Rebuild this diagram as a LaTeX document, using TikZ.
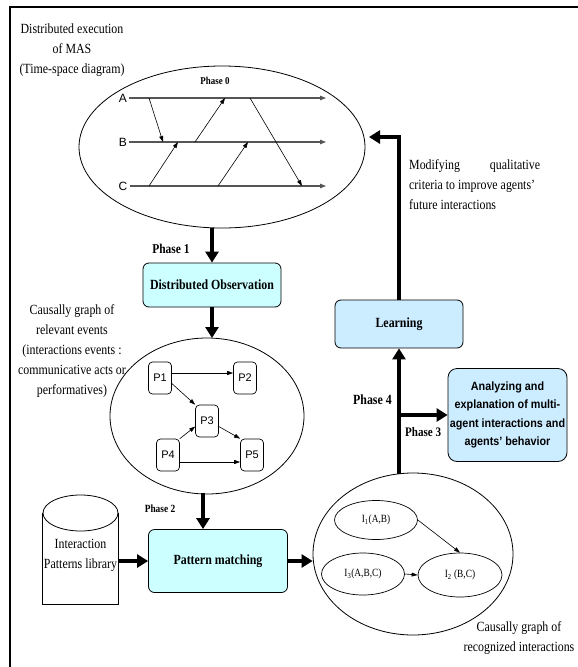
\documentclass[tikz,border=0pt]{standalone}
\usepackage{fontspec}
\setmainfont[FakeStretch=0.85]{Liberation Serif}
\newfontfamily\arialfont{Liberation Sans}
\newfontfamily\arialnarrow[FakeStretch=0.9]{Liberation Sans}
\usetikzlibrary{arrows.meta,shapes.geometric}

\definecolor{obscyan}{HTML}{CCFFFF}
\definecolor{learnblue}{HTML}{CCECFF}
\definecolor{lanegray}{HTML}{555555}

\tikzset{
  txt/.style={font=\fontsize{14}{20}\selectfont, align=center, inner sep=0},
  phaselbl/.style={font=\fontsize{#1}{#1}\selectfont\bfseries, inner sep=0},
  procbox/.style={draw, rounded corners=6pt, line width=0.8pt, fill=obscyan,
    font=\fontsize{14}{17}\selectfont\bfseries, inner sep=0},
  bigarrow/.style={line width=4pt, -{Triangle[length=11pt,width=13pt]}},
  smallarrow/.style={line width=0.6pt, -{Triangle[length=6pt,width=4pt]}},
  lane/.style={line width=1.1pt, draw=lanegray, -{Triangle[length=6pt,width=4.5pt]}},
  lanelbl/.style={font=\arialfont\fontsize{12}{12}\selectfont, inner sep=2pt},
  pbox/.style={draw, rounded corners=4pt, line width=0.7pt, minimum width=23pt,
    minimum height=32pt, inner sep=0, font=\arialfont\fontsize{11}{11}\selectfont},
  bigell/.style={draw, ellipse, line width=0.8pt, inner sep=0},
  iell/.style={draw, ellipse, line width=0.7pt, inner sep=0,
    font=\fontsize{11}{11}\selectfont},
}

\begin{document}
\begin{tikzpicture}[x=1pt,y=-1pt]
\useasboundingbox (0,0) rectangle (578,667);

% frame
\draw[line width=2pt] (10,667) -- (10,7) -- (578,7);

% ---- Phase 0: time-space diagram ----
\node[bigell, minimum width=286pt, minimum height=162pt] (ph0) at (222,147) {};
\node[txt] (exec) at (72,50) {Distributed execution\\of MAS\\(Time-space diagram)};
\node[phaselbl=10.5] (p0) at (215,81) {Phase 0};

\node[lanelbl] (lA) at (123,98) {A};
\node[lanelbl] (lB) at (123,142) {B};
\node[lanelbl] (lC) at (123,186) {C};
\coordinate (eA) at (326,98);
\coordinate (eB) at (326,142);
\coordinate (eC) at (326,186);
\draw[lane] (lA.east) -- (eA);
\draw[lane] (lB.east) -- (eB);
\draw[lane] (lC.east) -- (eC);

% messages between the lanes
\coordinate (m1s) at (149,98);  \coordinate (m1e) at (163,142);
\coordinate (m2s) at (149,186); \coordinate (m2e) at (178,142);
\coordinate (m3s) at (195,142); \coordinate (m3e) at (225,98);
\coordinate (m4s) at (218,186); \coordinate (m4e) at (248,142);
\coordinate (m5s) at (250,98);  \coordinate (m5e) at (302,186);
\draw[smallarrow] (m1s) -- (m1e);
\draw[smallarrow] (m2s) -- (m2e);
\draw[smallarrow] (m3s) -- (m3e);
\draw[smallarrow] (m4s) -- (m4e);
\draw[smallarrow] (m5s) -- (m5e);

% ---- Phase 1: observation ----
\node[procbox, minimum width=138pt, minimum height=44pt] (obs) at (212,285) {Distributed Observation};
\node[phaselbl=13.5] (p1) at (171,249) {Phase 1};
\coordinate (ph0b) at (212,228);
\draw[bigarrow] (ph0b) -- (obs.north);

% causal graph of events
\node[bigell, minimum width=194pt, minimum height=156pt] (evg) at (207,416) {};
\coordinate (evgt) at (212,338);
\draw[bigarrow] (obs.south) -- (evgt);
\node[txt] (evtxt) at (72,351) {Causally graph of\\relevant events\\(interactions events :\\communicative acts or\\performatives)};

\node[pbox] (P1) at (160,378) {P1};
\node[pbox] (P2) at (245,378) {P2};
\node[pbox] (P3) at (207,421) {P3};
\node[pbox] (P4) at (168,455) {P4};
\node[pbox] (P5) at (252,455) {P5};
\draw[smallarrow] (P1.east |- 0,373) -- (P2.west |- 0,373);
\draw[smallarrow] (P1.-25) -- (P3.north west);
\draw[smallarrow] (P4.north east) -- (P3.-155);
\draw[smallarrow] (P3.-25) -- (P5.north west);
\draw[smallarrow] (P4.east |- 0,462) -- (P5.west |- 0,462);

% ---- Phase 2: pattern matching ----
\node[procbox, minimum width=139pt, minimum height=63pt] (pm) at (218,561) {Pattern matching};
\node[phaselbl=11] (p2) at (160,509) {Phase 2};
\coordinate (evgb) at (203,493);
\draw[bigarrow] (evgb) -- (evgb |- pm.north);

% pattern library (cylinder)
\node[txt, minimum width=75pt, minimum height=98pt] (lib) at (80.5,555) {};
\draw[line width=0.8pt] (lib.north west |- 0,513) -- (lib.south west) -- (lib.south east) -- (lib.north east |- 0,513);
\draw[line width=0.8pt] (80.5,513) ellipse [x radius=37.5pt, y radius=18pt];
\node[txt] (libtxt) at (80.5,555) {Interaction\\Patterns library};
\draw[bigarrow] (lib.east |- pm.west) -- (pm.west);

% causal graph of recognized interactions
\node[bigell, minimum width=200pt, minimum height=162pt] (rig) at (413,554) {};
\draw[bigarrow] (pm.east) -- (pm.east -| rig.west);
\node[iell, minimum width=83pt, minimum height=39pt] (I1) at (376,520) {I\textsubscript{1}(A,B)};
\node[iell, minimum width=83pt, minimum height=42pt] (I3) at (363,574) {I\textsubscript{3}(A,B,C)};
\node[iell, minimum width=84pt, minimum height=44pt] (I2) at (460,575) {I\textsubscript{2} (B,C)};
\draw[smallarrow] (I1.east) -- (I2.north);
\draw[smallarrow] (I3.east) -- (I2.west);
\node[txt] (rigtxt) at (519,638) {Causally graph of\\recognized interactions};

% ---- Phases 3 and 4 ----
\node[procbox, fill=learnblue, minimum width=128pt, minimum height=48pt] (learn) at (399,324) {Learning};
\node[draw, rounded corners=9pt, line width=0.8pt, fill=learnblue, minimum width=119pt,
  minimum height=93pt, inner sep=0, align=center,
  font=\arialnarrow\bfseries\fontsize{12}{18.2}\selectfont] (anal) at (507.5,415)
  {Analyzing and\\explanation of multi-\\agent interactions and\\agents’ behavior};
\coordinate (rigt) at (399,474);
\coordinate (br) at (399,415);
\draw[bigarrow] (rigt) -- (learn.south);
\draw[bigarrow] (br) -- (anal.west);
\node[phaselbl=14, anchor=east] (p4) at (392,400) {Phase 4};
\node[phaselbl=13, anchor=west] (p3) at (405,432) {Phase 3};

% learning feeds back into the execution
\coordinate (fb) at (369,137);
\draw[bigarrow] (learn.north) |- (fb);
\node[txt, align=left, anchor=north west] (modtxt) at (409,159)
  {\makebox[131pt][s]{Modifying\hfill qualitative}\\criteria to improve agents’\\future interactions};
\end{tikzpicture}
\end{document}
